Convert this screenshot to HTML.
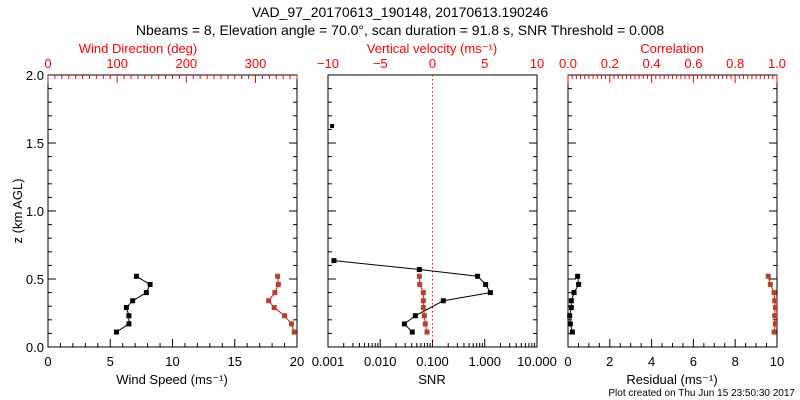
<!DOCTYPE html>
<html><head><meta charset="utf-8"><style>
body{margin:0;background:#fff;}
svg{display:block;font-family:"Liberation Sans",sans-serif;}
</style></head><body>
<svg id="c" width="800" height="400"></svg>
<script>
const heights=[0.11,0.17,0.23,0.29,0.34,0.40,0.46,0.52];
const windSpeed=[5.5,6.5,6.5,6.3,6.8,7.9,8.2,7.1];
const windDir=[356,352,342,327,319,328,333,332];
const snrHeights=[0.11,0.17,0.23,0.34,0.40,0.46,0.52,0.57,0.635,1.625];
const snrValues=[0.041,0.029,0.047,0.161,1.28,1.04,0.73,0.056,0.0013,0.0012];
const vertVel=[-0.53,-0.69,-0.78,-0.88,-0.88,-0.88,-1.22,-1.26];
const residual=[0.21,0.11,0.08,0.16,0.16,0.29,0.51,0.46];
const correlation=[0.986,0.992,0.989,0.992,0.989,0.986,0.968,0.958];
const snrThreshold=0.1;

const S=document.getElementById('c'),NS='http://www.w3.org/2000/svg';
function el(t,a,txt,name){const e=document.createElementNS(NS,t);for(const k in a)e.setAttribute(k,a[k]);if(txt!=null)e.textContent=txt;


S.appendChild(e);return e;}
const TOP=75,BOT=347;
const Y=z=>BOT-(z/2)*(BOT-TOP);
const P=[{l:48,r:297},{l:328,r:537},{l:568,r:777}];
const RED='#ff0000',MK='#b5402e';
function lin(p,a,b){return v=>p.l+(v-a)/(b-a)*(p.r-p.l);}
function logx(p,a,b){return v=>p.l+(Math.log10(v)-Math.log10(a))/(Math.log10(b)-Math.log10(a))*(p.r-p.l);}
function txt(x,y,s,col,anchor,name,size){return el('text',{x:x,y:y,fill:col||'#000','font-size':size||13,'text-anchor':anchor||'middle'},s,name);}
// frames
P.forEach((p,i)=>el('rect',{x:p.l,y:TOP,width:p.r-p.l,height:BOT-TOP,fill:'none',stroke:'#000','stroke-width':1},null,'panel-frame-'+(i+1)));
// y ticks
P.forEach((p,i)=>{for(let k=0;k<=20;k++){const z=k/10,y=Y(z),L=k%5==0?8:4;
 el('line',{x1:p.l,x2:p.l+L,y1:y,y2:y,stroke:'#000'},null,'y-tick');
 el('line',{x1:p.r,x2:p.r-L,y1:y,y2:y,stroke:'#000'},null,'y-tick');}});
[0,0.5,1,1.5,2].forEach(z=>txt(44,Y(z)+5,z.toFixed(1),'#000','end','y-tick-label'));
el('text',{x:0,y:0,'font-size':13,'text-anchor':'middle',transform:`translate(22,${Y(1)}) rotate(-90)`},'z (km AGL)','y-axis-title');
function xticks(p,f,min,max,step,mstep,bottom,col,labels,fmt){
 const y0=bottom?BOT:TOP,d=bottom?-1:1;
 for(let v=min;v<=max+1e-9;v+=mstep){const x=f(v);const major=Math.abs(v/step-Math.round(v/step))<1e-6;
  el('line',{x1:x,x2:x,y1:y0,y2:y0+d*(major?8:4),stroke:col},null,'x-tick');}
 if(labels)for(let v=min;v<=max+1e-9;v+=step)txt(f(v),bottom?BOT+19:TOP-7,fmt(v),col,'middle','x-tick-label');}
// panel1
const ws=lin(P[0],0,20),wd=lin(P[0],0,360);
xticks(P[0],ws,0,20,5,1,true,'#000',true,v=>String(Math.round(v)));
xticks(P[0],wd,0,360,100,10,false,RED,false);
[0,100,200,300].forEach(v=>txt(wd(v),TOP-7,String(v),RED,'middle','top-tick-label'));
txt(172,384,'Wind Speed (ms⁻¹)','#000','middle','x-axis-title-wind-speed');
txt(138,53,'Wind Direction (deg)',RED,'middle','top-axis-title-wind-direction');
// panel2
const sx=logx(P[1],0.001,10),vx=lin(P[1],-10,10);
for(let d=-3;d<1;d++)for(let m=1;m<10;m++){const x=sx(m*Math.pow(10,d));el('line',{x1:x,x2:x,y1:BOT,y2:BOT-(m==1?8:4),stroke:'#000'},null,'x-tick');}
el('line',{x1:P[1].r,x2:P[1].r,y1:BOT,y2:BOT-8,stroke:'#000'},null,'x-tick');
['0.001','0.010','0.100','1.000','10.000'].forEach((s,i)=>txt(sx(Math.pow(10,i-3)),BOT+19,s,'#000','middle','x-tick-label'));
[-10,-5,0,5,10].forEach(v=>txt(vx(v),TOP-7,v<0?'−'+(-v):String(v),RED,'middle','top-tick-label'));
txt(432,384,'SNR','#000','middle','x-axis-title-snr');
txt(432,53,'Vertical velocity (ms⁻¹)',RED,'middle','top-axis-title-vertical-velocity');
el('line',{x1:sx(snrThreshold),x2:sx(snrThreshold),y1:TOP,y2:BOT,stroke:RED,'stroke-dasharray':'1.5,2.5'},null,'snr-threshold-line');
// panel3
const rx=lin(P[2],0,10),cx=lin(P[2],0,1);
xticks(P[2],rx,0,10,2,0.5,true,'#000',true,v=>String(Math.round(v)));
xticks(P[2],cx,0,1,0.2,0.02,false,RED,true,v=>v.toFixed(1));
txt(44+0,0,'');
txt(672,384,'Residual (ms⁻¹)','#000','middle','x-axis-title-residual');
txt(672,53,'Correlation',RED,'middle','top-axis-title-correlation');
// series
function series(xs,zs,f,lineCol,mkCol,name){
 const pts=xs.map((v,i)=>[f(v),Y(zs[i])]);
 el('polyline',{points:pts.map(p=>p.join(',')).join(' '),fill:'none',stroke:lineCol,'stroke-width':1},null,name+'-line');
 pts.forEach(p=>el('rect',{x:p[0]-2.5,y:p[1]-2.5,width:5,height:5,fill:mkCol},null,name+'-point'));}
series(windSpeed,heights,ws,'#000','#000','wind-speed');
series(windDir,heights,wd,RED,MK,'wind-direction');
series(snrValues.slice(0,9),snrHeights.slice(0,9),sx,'#000','#000','snr');
el('rect',{x:sx(snrValues[9])-2,y:Y(snrHeights[9])-2,width:4,height:4,fill:'#000'},null,'snr-point');
series(vertVel,heights,vx,RED,MK,'vertical-velocity');
series(residual,heights,rx,'#000','#000','residual');
series(correlation,heights,cx,RED,MK,'correlation');
// titles
txt(400,17,'VAD_97_20170613_190148, 20170613.190246','#000','middle','chart-title',14);
txt(400,35,'Nbeams = 8, Elevation angle = 70.0°, scan duration = 91.8 s, SNR Threshold = 0.008','#000','middle','chart-subtitle',14);
txt(795,396,'Plot created on Thu Jun 15 23:50:30 2017','#000','end','plot-created-note',10);
</script>
</body></html>
